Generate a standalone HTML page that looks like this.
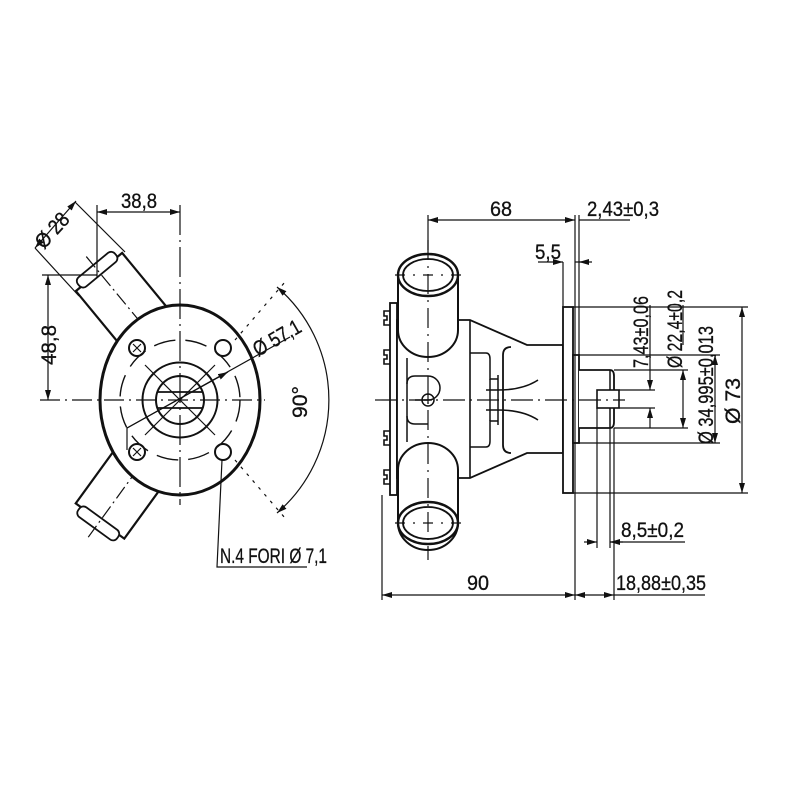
<!DOCTYPE html>
<html><head><meta charset="utf-8"><style>
html,body{margin:0;padding:0;background:#fff}
svg{display:block}
text{font-family:"Liberation Sans Narrow","Liberation Sans",sans-serif;font-size:21px;fill:#111;stroke:#111;stroke-width:0.3}
</style></head><body>
<svg width="800" height="800" viewBox="0 0 800 800" xmlns="http://www.w3.org/2000/svg">
<defs>
<marker id="a" viewBox="0 0 10 6" refX="10" refY="3" markerWidth="10" markerHeight="6" orient="auto-start-reverse" markerUnits="userSpaceOnUse"><path d="M0,0 L10,3 L0,6 z" fill="#111"/></marker>
</defs>
<g fill="none" stroke="#111" stroke-width="1.2">
<!-- ============ LEFT VIEW ============ -->
<g transform="translate(99,272) rotate(50.5)">
 <rect x="0" y="-30" width="120" height="60" fill="#fff" stroke-width="2.2"/>
 <rect x="-9" y="-24" width="12" height="48" rx="5" fill="#fff" stroke-width="1.8"/>
 <line x1="-20" y1="0" x2="130" y2="0" stroke-dasharray="14,4,2,4"/>
</g>
<g transform="translate(100,521) rotate(-54)">
 <rect x="0" y="-30" width="110" height="60" fill="#fff" stroke-width="2.2"/>
 <rect x="-9" y="-24" width="12" height="48" rx="5" fill="#fff" stroke-width="1.8"/>
 <line x1="-20" y1="0" x2="120" y2="0" stroke-dasharray="14,4,2,4"/>
</g>
<ellipse cx="180" cy="400" rx="80" ry="95" fill="#fff" stroke-width="3"/>
<ellipse cx="180" cy="400" rx="60" ry="60" stroke-dasharray="22,10" stroke-width="1.4"/>
<circle cx="180" cy="400" r="37.5" stroke-width="2"/>
<circle cx="180" cy="400" r="24" stroke-width="2"/>
<line x1="157" y1="392" x2="203" y2="392" stroke-width="1.8"/>
<line x1="157" y1="408" x2="203" y2="408" stroke-width="1.8"/>
<circle cx="137" cy="348" r="8" stroke-width="2"/>
<circle cx="223" cy="348" r="8" stroke-width="2"/>
<circle cx="137" cy="452" r="8" stroke-width="2"/>
<circle cx="223" cy="452" r="8" stroke-width="2"/>
<path d="M133,344 l8,8 M141,344 l-8,8 M133,448 l8,8 M141,448 l-8,8"/>
<line x1="40" y1="400" x2="265" y2="400" stroke-dasharray="20,5,2,5"/>
<line x1="180" y1="205" x2="180" y2="505" stroke-dasharray="30,5,2,5"/>
<line x1="145" y1="365" x2="215" y2="435"/>
<line x1="215" y1="365" x2="145" y2="435"/>
<line x1="97" y1="205" x2="97" y2="277"/>
<line x1="97" y1="212" x2="180" y2="212" marker-start="url(#a)" marker-end="url(#a)"/>
<line x1="42" y1="275" x2="97" y2="275"/>
<line x1="48" y1="275" x2="48" y2="400" marker-start="url(#a)" marker-end="url(#a)"/>
<line x1="35" y1="248" x2="79" y2="296"/>
<line x1="75" y1="202" x2="125" y2="252"/>
<line x1="35" y1="248" x2="76" y2="201" marker-start="url(#a)" marker-end="url(#a)"/>
<polyline points="127,450 127,428 228,372" marker-end="url(#a)"/>
<line x1="127" y1="428" x2="290" y2="337"/>
<path d="M277,287 A149,149 0 0 1 277,513" marker-start="url(#a)" marker-end="url(#a)"/>
<line x1="235" y1="340" x2="285" y2="282" stroke-dasharray="3,6"/>
<line x1="235" y1="460" x2="285" y2="518" stroke-dasharray="3,6"/>
<polyline points="222,460 217,567 307,567"/>
<!-- ============ RIGHT VIEW ============ -->
<rect x="390" y="303" width="7" height="192" fill="#fff" stroke-width="1.8"/>
<path d="M390,311 h-6 v5 h3 v4 h-3 v5 h6 M390,350 h-6 v5 h3 v4 h-3 v5 h6 M390,431 h-6 v5 h3 v4 h-3 v5 h6 M390,470 h-6 v5 h3 v4 h-3 v5 h6" stroke-width="1.6"/>
<path d="M397,320 H470 L527,345 H563 V453 H527 L470,478 H397 Z" fill="#fff" stroke-width="1.8"/>
<line x1="470" y1="320" x2="470" y2="478" stroke-width="1.6"/>
<path d="M470,353 h16 q4,0 4,6 v20 h8 M470,447 h16 q4,0 4,-6 v-20 h8" stroke-width="1.5"/>
<path d="M490,379 v42 M498,375 v50" stroke-width="1.5"/>
<path d="M503,355 q0,-8 8,-8 M503,445 q0,8 8,8 M503,355 V445" stroke-width="1.8"/>
<path d="M486,390 h12 q25,0 40,-10 M486,410 h12 q25,0 40,10" stroke-width="1.5"/>
<path d="M407,384 q0,-8 8,-8 h13 a12,12 0 0 1 0,24 h-13 M407,416 q0,8 8,8 h13" stroke-width="1.5"/>
<path d="M407,384 V416 M407,358 v26 M407,416 v26" stroke-width="1.5"/>
<circle cx="428" cy="400" r="6" stroke-width="1.5"/>
<path d="M424,400 h8 M428,396 v8"/>
<path d="M398,275 V330 A30,27 0 0 0 458,330 V275" fill="#fff" stroke-width="2"/>
<ellipse cx="428" cy="275" rx="30" ry="21" fill="#fff" stroke-width="2.4"/>
<ellipse cx="428" cy="275" rx="25" ry="16" stroke-width="1.8"/>
<path d="M398,523 V470 A30,27 0 0 1 458,470 V523" fill="#fff" stroke-width="2"/>
<path d="M398,523 A30,27 0 0 0 458,523" stroke-width="2"/>
<ellipse cx="428" cy="523" rx="30" ry="21" fill="#fff" stroke-width="2.4"/>
<ellipse cx="428" cy="523" rx="25" ry="16" stroke-width="1.8"/>
<line x1="395" y1="275" x2="468" y2="275" stroke-dasharray="10,8,2,8"/>
<line x1="395" y1="523" x2="468" y2="523" stroke-dasharray="10,8,2,8"/>
<line x1="428" y1="240" x2="428" y2="560" stroke-dasharray="20,6,2,6"/>
<rect x="563" y="307" width="10" height="186" fill="#fff" stroke-width="1.8"/>
<rect x="573" y="355" width="6" height="88" fill="#fff" stroke-width="1.8"/>
<path d="M579,370 H610 q4,0 4,6 V422 q0,6 -4,6 H579" fill="#fff" stroke-width="1.8"/>
<line x1="610" y1="370" x2="610" y2="428" stroke-width="1.5"/>
<rect x="597" y="390" width="22" height="18" fill="#fff" stroke-width="1.6"/>
<line x1="375" y1="400" x2="625" y2="400" stroke-dasharray="22,5,2,5"/>
<line x1="428" y1="215" x2="428" y2="250"/>
<line x1="575" y1="215" x2="575" y2="600"/>
<line x1="579" y1="215" x2="579" y2="355"/>
<line x1="563" y1="262" x2="563" y2="307"/>
<line x1="428" y1="220" x2="575" y2="220" marker-start="url(#a)" marker-end="url(#a)"/>
<line x1="579" y1="220" x2="630" y2="220"/>
<line x1="538" y1="262" x2="563" y2="262" marker-end="url(#a)"/>
<line x1="589" y1="262" x2="579" y2="262" marker-end="url(#a)"/>
<line x1="575" y1="262" x2="592" y2="262"/>
<line x1="573" y1="307" x2="748" y2="307"/>
<line x1="573" y1="493" x2="748" y2="493"/>
<line x1="742" y1="307" x2="742" y2="493" marker-start="url(#a)" marker-end="url(#a)"/>
<line x1="579" y1="355" x2="720" y2="355"/>
<line x1="579" y1="443" x2="720" y2="443"/>
<line x1="715" y1="355" x2="715" y2="443" marker-start="url(#a)" marker-end="url(#a)"/>
<line x1="614" y1="370" x2="688" y2="370"/>
<line x1="614" y1="428" x2="688" y2="428"/>
<line x1="683" y1="370" x2="683" y2="428" marker-start="url(#a)" marker-end="url(#a)"/>
<line x1="683" y1="305" x2="683" y2="345"/>
<line x1="619" y1="390" x2="655" y2="390"/>
<line x1="619" y1="408" x2="655" y2="408"/>
<line x1="650" y1="370" x2="650" y2="390" marker-end="url(#a)"/>
<line x1="650" y1="428" x2="650" y2="408" marker-end="url(#a)"/>
<line x1="650" y1="305" x2="650" y2="370"/>
<line x1="597" y1="408" x2="597" y2="548"/>
<line x1="610" y1="428" x2="610" y2="548"/>
<line x1="584" y1="542" x2="597" y2="542" marker-end="url(#a)"/>
<line x1="623" y1="542" x2="610" y2="542" marker-end="url(#a)"/>
<line x1="610" y1="542" x2="685" y2="542"/>
<line x1="382" y1="495" x2="382" y2="600"/>
<line x1="614" y1="428" x2="614" y2="600"/>
<line x1="382" y1="595" x2="575" y2="595" marker-start="url(#a)" marker-end="url(#a)"/>
<line x1="575" y1="595" x2="614" y2="595" marker-start="url(#a)" marker-end="url(#a)"/>
<line x1="614" y1="595" x2="705" y2="595"/>
</g>
<text x="121" y="208" textLength="36" lengthAdjust="spacingAndGlyphs">38,8</text>
<text transform="translate(56,365) rotate(-90)" textLength="40" lengthAdjust="spacingAndGlyphs">48,8</text>
<text transform="translate(44,250) rotate(-48)" textLength="40" lengthAdjust="spacingAndGlyphs">Ø 28</text>
<text transform="translate(258,357) rotate(-30)" textLength="52" lengthAdjust="spacingAndGlyphs">Ø 57,1</text>
<text transform="translate(307,418) rotate(-90)" textLength="32" lengthAdjust="spacingAndGlyphs">90°</text>
<text x="220" y="563" textLength="107" lengthAdjust="spacingAndGlyphs">N.4 FORI Ø 7,1</text>
<text x="490" y="216" textLength="22" lengthAdjust="spacingAndGlyphs">68</text>
<text x="587" y="216" textLength="72" lengthAdjust="spacingAndGlyphs">2,43±0,3</text>
<text x="535" y="259" textLength="26" lengthAdjust="spacingAndGlyphs">5,5</text>
<text transform="translate(648,368) rotate(-90)" textLength="72" lengthAdjust="spacingAndGlyphs">7,43±0,06</text>
<text transform="translate(682,368) rotate(-90)" textLength="78" lengthAdjust="spacingAndGlyphs">Ø 22,4±0,2</text>
<text transform="translate(713,444) rotate(-90)" textLength="118" lengthAdjust="spacingAndGlyphs">Ø 34,995±0,013</text>
<text transform="translate(740,424) rotate(-90)" textLength="46" lengthAdjust="spacingAndGlyphs">Ø 73</text>
<text x="621" y="537" textLength="63" lengthAdjust="spacingAndGlyphs">8,5±0,2</text>
<text x="467" y="590" textLength="22" lengthAdjust="spacingAndGlyphs">90</text>
<text x="616" y="590" textLength="90" lengthAdjust="spacingAndGlyphs">18,88±0,35</text>
</svg>
</body></html>
